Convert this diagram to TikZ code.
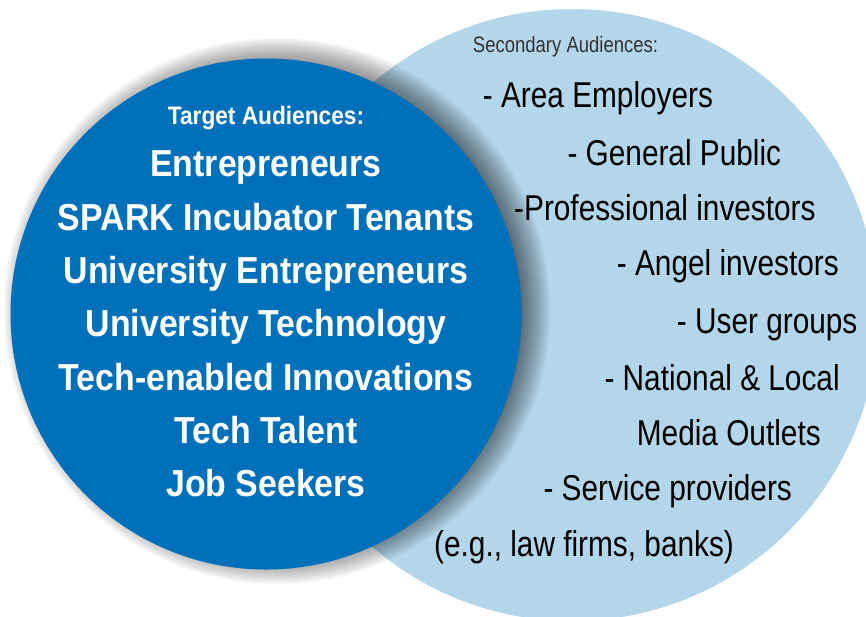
\documentclass[tikz,border=0pt]{standalone}
\usepackage{fontspec}
\setmainfont{Liberation Sans}
\newfontfamily\condreg{Liberation Sans}[FakeStretch=0.83]
\newfontfamily\condbold{Liberation Sans}[FakeStretch=0.90]
\definecolor{tgtblue}{RGB}{0,112,186}
\definecolor{secblue}{RGB}{180,214,234}

\begin{document}
\begin{tikzpicture}[
    x=1pt, y=-1pt,
    tgthead/.style={anchor=base, text=white, inner sep=0pt, font=\condbold\bfseries\fontsize{25.2}{27}\selectfont},
    tgt/.style={anchor=base, text=white, inner sep=0pt, font=\condbold\bfseries\fontsize{37.6}{40}\selectfont},
    sechead/.style={anchor=base west, text=black!80, inner sep=0pt, font=\condreg\fontsize{22.3}{24}\selectfont},
    sec/.style={anchor=base west, text=black, inner sep=0pt, font=\condreg\fontsize{35.9}{38}\selectfont},
]
\useasboundingbox (0,0) rectangle (866,616);

% Secondary circle (light)
\fill[secblue] (572,315) circle [radius=306];

% Soft shadow of the target circle
\foreach \k in {0,...,19}
    \fill[black, opacity=0.037] (277,311) circle [radius=240+1.75*\k];

% Target circle (dark)
\fill[tgtblue] (266,314) circle [radius=255.5];

% Target audiences
\node[tgthead] (thead) at (266,124.3) {Target Audiences:};
\node[tgt] (ent)   at (266,176.7) {Entrepreneurs};
\node[tgt] (spark) at (266,230.0) {SPARK Incubator Tenants};
\node[tgt] (uent)  at (266,283.3) {University Entrepreneurs};
\node[tgt] (utech) at (266,336.7) {University Technology};
\node[tgt] (tinno) at (266,390.0) {Tech-enabled Innovations};
\node[tgt] (ttal)  at (266,443.3) {Tech Talent};
\node[tgt] (jobs)  at (266,496.7) {Job Seekers};

% Secondary audiences
\node[sechead] (shead) at (472.7,52.7) {Secondary Audiences:};
\node[sec] (area)  at (482.7,107.3) {- Area Employers};
\node[sec] (pub)   at (567.3,165.0) {- General Public};
\node[sec] (prof)  at (514.0,220.7) {-Professional investors};
\node[sec] (angel) at (616.7,275.0) {- Angel investors};
\node[sec] (user)  at (676.7,333.3) {- User groups};
\node[sec] (media) at (604.3,390.0) {- National \& Local};
\node[sec] (outl)  at (636.7,445.7) {Media Outlets};
\node[sec] (serv)  at (543.3,500.7) {- Service providers};
\node[sec] (eg)    at (434.0,556.7) {(e.g., law firms, banks)};

\end{tikzpicture}
\end{document}
